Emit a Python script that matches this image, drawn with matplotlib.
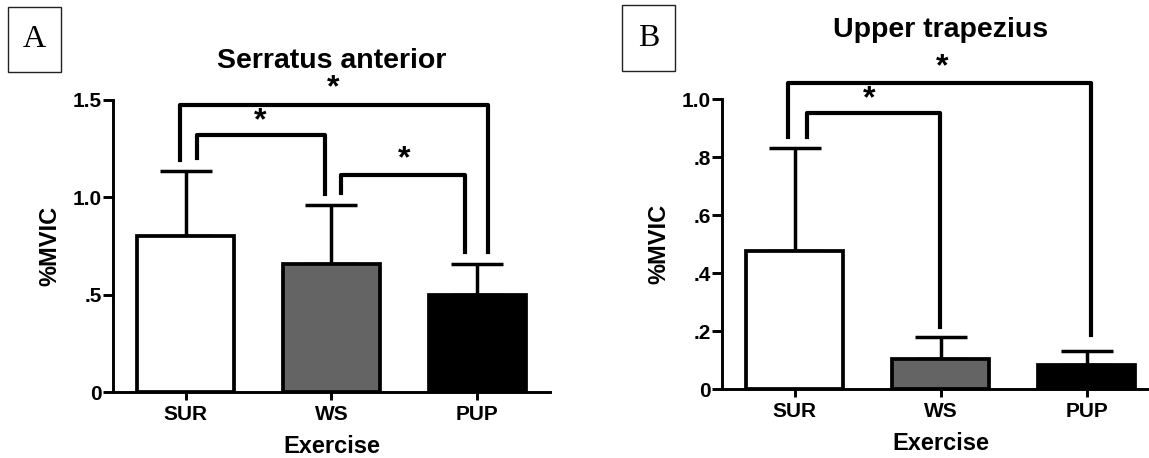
import matplotlib
matplotlib.use("Agg")
import matplotlib.pyplot as plt
from matplotlib.patches import Rectangle

plt.rcParams["font.family"] = ["Liberation Sans", "DejaVu Sans"]
plt.rcParams["font.weight"] = "bold"

# ----- data ----------------------------------------------------------
EXERCISES = ["SUR", "WS", "PUP"]
BAR_COLORS = ["white", "#646464", "black"]

SA_MEAN = [0.80, 0.66, 0.50]
SA_SD = [0.335, 0.30, 0.16]
SA_YTICKS = [0, 0.5, 1.0, 1.5]
SA_YTICKLABELS = ["0", ".5", "1.0", "1.5"]

UT_MEAN = [0.476, 0.103, 0.083]
UT_SD = [0.354, 0.077, 0.050]
UT_YTICKS = [0, 0.2, 0.4, 0.6, 0.8, 1.0]
UT_YTICKLABELS = ["0", ".2", ".4", ".6", ".8", "1.0"]

# brackets: (left x, right x, top, left leg bottom, right leg bottom)
SA_BRACKETS = [
    (-0.04, 2.075, 1.474, 1.19, 0.72),
    (0.077, 0.957, 1.32, 1.20, 1.017),
    (1.068, 1.916, 1.115, 1.02, 0.72),
]
SA_STARS = [(1.01, 1.56), (0.51, 1.39), (1.50, 1.197)]

UT_BRACKETS = [
    (-0.045, 2.03, 1.056, 0.87, 0.187),
    (0.085, 0.995, 0.951, 0.87, 0.216),
]
UT_STARS = [(1.007, 1.11), (0.51, 1.0)]

LW_BRACKET = 3.0
LW_BAR = 2.7
LW_ERR = 2.5
LW_AXIS = 2.1

fig = plt.figure(figsize=(11.49, 4.58), dpi=100)
ax_a = fig.add_axes([0.0983, 0.1441, 0.3803, 0.6376])
ax_b = fig.add_axes([0.6281, 0.1500, 0.3812, 0.6338])


def draw_panel(ax, means, sds, yticks, yticklabels, ymax, title, title_pad,
               brackets, stars):
    x = list(range(len(EXERCISES)))
    ax.bar(x, means, width=0.665, color=BAR_COLORS, edgecolor="black",
           linewidth=LW_BAR, zorder=2)
    ax.errorbar(x, means, yerr=[[0] * len(sds), sds], fmt="none",
                ecolor="black", elinewidth=LW_ERR, capsize=18.5,
                capthick=LW_ERR, zorder=1)
    for x0, x1, top, b0, b1 in brackets:
        ax.plot([x0, x0, x1, x1], [b0, top, top, b1], color="black",
                linewidth=LW_BRACKET, solid_joinstyle="round", clip_on=False)
    for sx, sy in stars:
        ax.text(sx, sy, "*", ha="center", va="center", fontsize=23,
                fontweight="bold")

    ax.set_xlim(-0.5, 2.5)
    ax.set_ylim(0, ymax)
    ax.set_xticks(x)
    ax.set_xticklabels(EXERCISES, fontsize=15, fontweight="bold")
    ax.set_yticks(yticks)
    ax.set_yticklabels(yticklabels, fontsize=15, fontweight="bold")
    ax.tick_params(axis="y", length=7, width=LW_AXIS, pad=1)
    ax.tick_params(axis="x", length=6, width=LW_AXIS, pad=3)
    for side in ("top", "right"):
        ax.spines[side].set_visible(False)
    for side in ("left", "bottom"):
        ax.spines[side].set_linewidth(LW_AXIS)
    ax.set_xlabel("Exercise", fontsize=17, fontweight="bold", labelpad=8)
    ax.set_ylabel("%MVIC", fontsize=17, fontweight="bold", labelpad=8)
    ax.set_title(title, fontsize=20.5, fontweight="bold", pad=title_pad)


draw_panel(ax_a, SA_MEAN, SA_SD, SA_YTICKS, SA_YTICKLABELS, 1.5,
           "Serratus anterior", 23, SA_BRACKETS, SA_STARS)
draw_panel(ax_b, UT_MEAN, UT_SD, UT_YTICKS, UT_YTICKLABELS, 1.0,
           "Upper trapezius", 45, UT_BRACKETS, UT_STARS)

# panel letters in boxes (figure pixels -> fraction)
W, H = 1149, 458
for letter, (x0, y0, x1, y1) in [("A", (8, 7, 61, 72)), ("B", (622, 5, 675, 71))]:
    fig.add_artist(Rectangle((x0 / W, 1 - y1 / H), (x1 - x0) / W,
                             (y1 - y0) / H, transform=fig.transFigure,
                             facecolor="white", edgecolor="#222222",
                             linewidth=1.0))
    fig.text((x0 + x1) / 2 / W, 1 - (y0 + y1) / 2 / H, letter,
             ha="center", va="center", fontsize=23, fontweight="normal",
             family=["Liberation Serif", "DejaVu Serif"])

fig.savefig("out.png", dpi=100)
